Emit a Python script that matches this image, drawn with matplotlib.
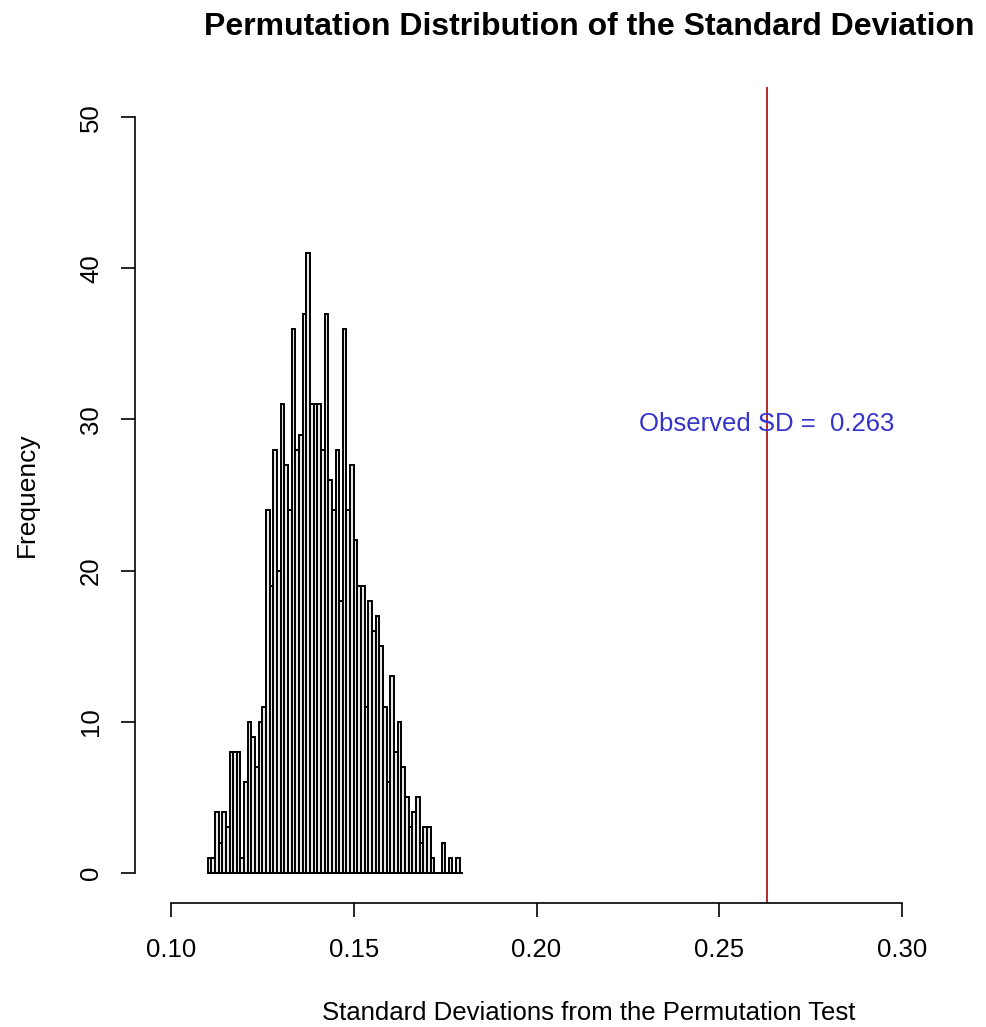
import numpy as np
import matplotlib.pyplot as plt

plt.rcParams['font.family'] = ['Liberation Sans', 'DejaVu Sans']

# Histogram of 1000 permuted SDs, bins of 0.001 starting at 0.110
bin_start = 0.110
bin_width = 0.001
counts = [1, 1, 4, 2, 4, 3, 8, 8, 8, 1,
          6, 10, 9, 7, 10, 11, 24, 19, 28, 20,
          31, 27, 24, 36, 28, 29, 37, 41, 31, 31,
          31, 28, 37, 26, 24, 28, 18, 36, 24, 27,
          22, 19, 19, 11, 18, 16, 17, 15, 11, 6,
          13, 8, 10, 7, 5, 3, 4, 5, 2, 3,
          3, 1, 0, 0, 2, 0, 1, 0, 1, 0]
observed_sd = 0.263

x_ticks = [0.10, 0.15, 0.20, 0.25, 0.30]
x_labels = ['0.10', '0.15', '0.20', '0.25', '0.30']
y_ticks = [0, 10, 20, 30, 40, 50]

W, H = 986, 1027
fig = plt.figure(figsize=(W / 100, H / 100), dpi=100)
# plot region in pixels: x 141.8..931.3, y 87..903
ax = fig.add_axes([141.8 / W, 1 - 903 / H, 789.5 / W, 816 / H])

lefts = bin_start + bin_width * np.arange(len(counts))
ax.bar(lefts, counts, width=bin_width, align='edge',
       facecolor='#e8e8e8', edgecolor='black', linewidth=1.4)

ax.axvline(observed_sd, color='#b22a2a', linewidth=1.4)
ax.text(observed_sd, 29.7, 'Observed SD =  %.3f' % observed_sd,
        color='#3434cc', fontsize=18.5, ha='center', va='center')

ax.set_xlim(0.092, 0.308)
ax.set_ylim(-2, 52)

for s in ['top', 'right']:
    ax.spines[s].set_visible(False)
ax.spines['bottom'].set_bounds(0.10, 0.30)
ax.spines['left'].set_bounds(0, 50)
ax.spines['left'].set_position(('outward', 5))
ax.spines['bottom'].set_linewidth(1.2)
ax.spines['left'].set_linewidth(1.2)

ax.set_xticks(x_ticks)
ax.set_xticklabels(x_labels)
ax.set_yticks(y_ticks)
ax.set_yticklabels([str(v) for v in y_ticks], rotation=90, va='center')
ax.tick_params(axis='both', length=10, width=1.2, labelsize=18.5, color='black')
ax.tick_params(axis='x', pad=15)
ax.tick_params(axis='y', pad=13)

fig.text(589 / W, 1 - 27 / H, 'Permutation Distribution of the Standard Deviation',
         fontsize=23, fontweight='bold', ha='center', va='center')
fig.text(589 / W, 1 - 1013 / H, 'Standard Deviations from the Permutation Test',
         fontsize=18.5, ha='center', va='center')
fig.text(27 / W, 1 - 495 / H, 'Frequency', fontsize=19, rotation=90,
         ha='center', va='center')

fig.savefig('out.png', dpi=100)
